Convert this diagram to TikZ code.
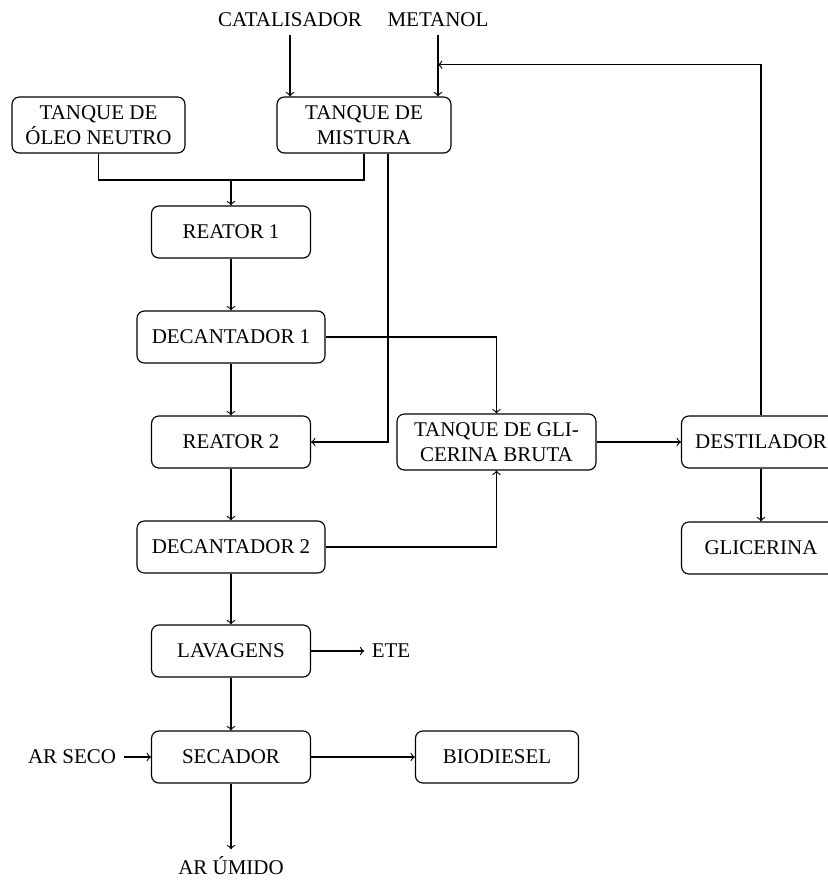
\documentclass[tikz,border=0pt]{standalone}
\usepackage{fontspec}
\setmainfont{Liberation Serif}
\begin{document}
\begin{tikzpicture}[x=0.477pt,y=-0.477pt, line width=0.55pt,
  box/.style={draw, rounded corners=3.5pt, align=center, minimum height=24.8pt, minimum width=75.8pt, inner sep=3.33pt},
  lbl/.style={inner sep=3.33pt},
  flow/.style={->}]
\useasboundingbox (0,0) rectangle (828,882);
% feed labels
\node[lbl] (cat) at (290,20) {CATALISADOR};
\node[lbl] (met) at (438,20) {METANOL};
% boxes
\node[box, minimum width=82.5pt, minimum height=26.7pt] (oleo) at (98.5,125) {TANQUE DE\\ÓLEO NEUTRO};
\node[box, minimum width=83pt, minimum height=26.7pt] (mist) at (364,125) {TANQUE DE\\MISTURA};
\node[box] (r1) at (231,232) {REATOR 1};
\node[box, minimum width=89.7pt] (d1) at (231,337) {DECANTADOR 1};
\node[box] (r2) at (231,442) {REATOR 2};
\node[box, minimum width=89.7pt] (d2) at (231,547) {DECANTADOR 2};
\node[box] (lav) at (231,651) {LAVAGENS};
\node[box] (sec) at (231,757) {SECADOR};
\node[box, minimum width=77.8pt] (bio) at (497,757) {BIODIESEL};
\node[box, minimum width=94.9pt, minimum height=26.7pt] (gb) at (496.5,442) {TANQUE DE GLI-\\CERINA BRUTA};
\node[box] (dest) at (761,442) {DESTILADOR};
\node[box] (glic) at (761,548) {GLICERINA};
% free labels
\node[lbl] (ete) at (391,651) {ETE};
\node[lbl] (arseco) at (72,757) {AR SECO};
\node[lbl] (arum) at (231,866) {AR ÚMIDO};
\coordinate (j) at (231,180);
\coordinate (ret) at (438,64.7);
% connectors
\draw[flow] (cat.south) -- (cat.south |- mist.north);
\draw[flow] (met.south) -- (met.south |- mist.north);
\draw (oleo.south) |- (j) -| (mist.south);
\draw[flow] (j) -- (r1.north);
\draw[flow] (r1) -- (d1);
\draw[flow] (d1) -- (r2);
\draw[flow] (r2) -- (d2);
\draw[flow] (d2) -- (lav);
\draw[flow] (lav) -- (sec);
\draw[flow] (sec) -- (arum);
\draw[flow] (lav) -- (ete);
\draw[flow] (arseco) -- (sec);
\draw[flow] (sec) -- (bio);
\draw[flow] ([xshift=11.45pt]mist.south) |- (r2.east);
\draw[flow] (d1.east) -| (gb.north);
\draw[flow] (d2.east) -| (gb.south);
\draw[flow] (gb) -- (dest);
\draw[flow] (dest) -- (glic);
\draw[flow] (dest.north) |- (ret);
\end{tikzpicture}
\end{document}
